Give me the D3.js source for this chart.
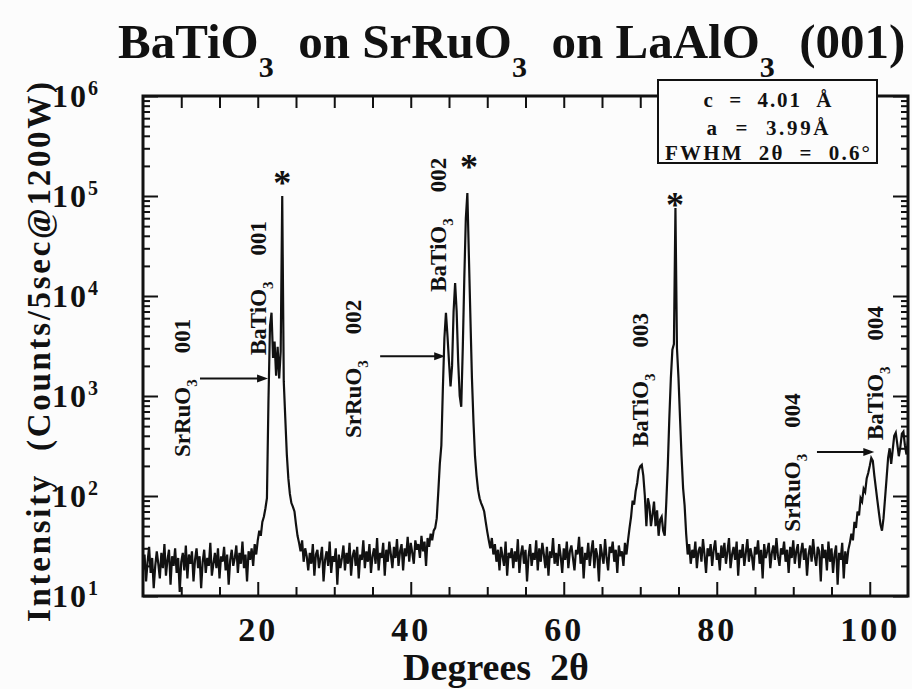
<!DOCTYPE html>
<html>
<head>
<meta charset="utf-8">
<script src="https://cdn.jsdelivr.net/npm/d3@7"></script>
<style>
  html, body { margin: 0; padding: 0; background: #fcfcfc; }
  svg { display: block; }
  text { font-family: "Liberation Serif", "Times New Roman", serif; font-weight: bold; fill: #111; white-space: pre; }
</style>
</head>
<body>
<svg id="chart" width="912" height="689"></svg>
<script>
// θ–2θ scan, 5° to 105° in 0.2° steps (counts per 5 s)
const scanStart = 5;
const scanStep = 0.2;
const counts = [
  18, 26, 14, 22, 31, 17, 24, 12, 20, 28,          // 5°
  21, 15, 27, 19, 33, 16, 23, 29, 13, 25,          // 7°
  20, 30, 17, 24, 11, 22, 27, 18, 32, 15,          // 9°
  26, 21, 28, 14, 23, 30, 19, 25, 12, 22,          // 11°
  29, 17, 24, 20, 34, 16, 21, 27, 19, 30,          // 13°
  15, 25, 22, 31, 18, 26, 13, 23, 29, 20,          // 15°
  24, 32, 17, 27, 21, 35, 19, 26, 14, 28,          // 17°
  23, 30, 20, 33, 26, 36, 45, 40, 55, 62,          // 19°
  75, 95, 900, 5000, 6800, 2400, 3500, 1600, 3100, 1500,   // 21°
  2800, 100000, 1400, 600, 260, 150, 105, 85, 78, 70,     // 23°
  52, 40, 34, 28, 36, 22, 30, 25, 18, 27,          // 25°
  21, 33, 16, 26, 29, 19, 24, 31, 14, 23,          // 27°
  28, 20, 35, 17, 25, 22, 30, 13, 26, 19,          // 29°
  24, 32, 18, 27, 21, 34, 16, 25, 29, 20,          // 31°
  31, 15, 26, 23, 36, 19, 28, 22, 33, 17,          // 33°
  25, 30, 21, 38, 18, 27, 24, 34, 16, 29,          // 35°
  22, 35, 26, 19, 31, 24, 37, 20, 28, 33,          // 37°
  18, 30, 25, 39, 22, 34, 27, 21, 36, 29,          // 39°
  33, 24, 40, 28, 35, 20, 38, 31, 42, 36,          // 41°
  45, 48, 60, 110, 210, 320, 1200, 3800, 6800, 4000,       // 43°
  2200, 1250, 2000, 7000, 13500, 7000, 2200, 1000, 780, 3000, // 45°
  15000, 60000, 107000, 25000, 6000, 1500, 550, 250, 160, 115, // 47°
  95, 85, 78, 70, 55, 44, 36, 30, 38, 26,          // 49°
  33, 22, 29, 18, 31, 25, 20, 35, 16, 27,          // 51°
  24, 30, 19, 28, 22, 37, 17, 26, 32, 21,          // 53°
  29, 14, 25, 33, 20, 27, 23, 36, 18, 30,          // 55°
  22, 34, 26, 19, 31, 16, 28, 24, 38, 21,          // 57°
  27, 20, 33, 25, 17, 30, 23, 35, 19, 28,          // 59°
  32, 24, 18, 29, 26, 39, 21, 31, 15, 27,          // 61°
  23, 34, 20, 28, 36, 19, 30, 25, 14, 33,          // 63°
  26, 21, 37, 24, 18, 31, 27, 35, 22, 29,          // 65°
  17, 32, 25, 28, 20, 34, 26, 36, 48, 62,          // 67°
  90, 82, 112, 135, 180, 198, 205, 160, 100, 50,   // 69°
  95, 80, 50, 65, 88, 50, 72, 40, 58, 62,          // 71°
  45, 40, 85, 200, 600, 1500, 2900, 3300, 76000, 3000,     // 73°
  1500, 600, 250, 120, 80, 42, 26, 33, 21, 29,     // 75°
  24, 35, 19, 28, 31, 22, 37, 26, 17, 30,          // 77°
  25, 33, 20, 29, 36, 23, 27, 18, 32, 24,          // 79°
  34, 21, 28, 38, 19, 26, 31, 23, 35, 16,          // 81°
  29, 24, 33, 20, 27, 37, 22, 30, 25, 18,          // 83°
  31, 26, 36, 21, 29, 15, 33, 24, 28, 34,          // 85°
  19, 27, 32, 23, 38, 25, 20, 30, 26, 35,          // 87°
  22, 29, 17, 31, 24, 36, 21, 28, 33, 19,          // 89°
  27, 34, 23, 30, 16, 26, 32, 22, 37, 25,          // 91°
  20, 31, 28, 14, 33, 24, 29, 18, 35, 22,          // 93°
  30, 17, 26, 32, 13, 27, 23, 34, 15, 28,          // 95°
  21, 29, 34, 42, 36, 55, 48, 70, 64, 95,          // 97°
  88, 118, 110, 150, 170, 200, 240, 225, 160, 120, // 99°
  90, 68, 52, 45, 60, 95, 150, 240, 300, 210,      // 101°
  290, 400, 430, 330, 250, 310, 420, 440, 320, 260, // 103°
  360                                              // 105°
];

// axis ticks
const xTicks = [20, 40, 60, 80, 100];
const yTicks = [1e1, 1e2, 1e3, 1e4, 1e5, 1e6];

// film parameters
const paramLines = ["c  =  4.01  Å", "a  =  3.99Å", "FWHM  2θ  =  0.6°"];

// reflection labels: 2θ of the label baseline, intensity where the label starts
const labelPhase = ["SrRuO", "BaTiO", "SrRuO", "BaTiO", "BaTiO", "SrRuO", "BaTiO"];
const labelHkl   = ["001", "001", "002", "002", "003", "004", "004"];
const labelAt    = [11.15, 21.1, 33.5, 44.6, 71.0, 90.9, 101.7];
const labelBase  = [245, 2570, 380, 11000, 309, 44, 363];

// SrRuO3 pointers: start and tip in 2θ, at a given intensity
const arrowFrom  = [12.45, 36.0, 93.1];
const arrowTo    = [21.35, 44.5, 100.6];
const arrowLevel = [1500, 2500, 275];

// LaAlO3 substrate reflections (*)
const substrateAt    = [23.2, 47.6, 74.55];
const substrateLevel = [151000, 219000, 91000];

// title pieces: formula and subscript
const titleParts = [["BaTiO", "3"], ["  on SrRuO", "3"], ["  on LaAlO", "3"], ["  (001)", ""]];

const scan = counts.map((c, i) => [scanStart + i * scanStep, c]);

const svg = d3.select("#chart");
const plot = { left: 143, right: 908, top: 96, bottom: 596 };

const x = d3.scaleLinear().domain([5, 105]).range([plot.left, plot.right]);
const y = d3.scaleLog().domain([10, 1e6]).range([plot.bottom, plot.top]);

const xMinor = d3.range(10, 105, 5).filter(v => !xTicks.includes(v));
const xAll = d3.range(10, 105, 5);
const yMinor = [];
for (let e = 1; e < 6; e++) for (let m = 2; m <= 9; m++) yMinor.push(m * Math.pow(10, e));

function styleAxis(g) {
  g.select(".domain").remove();
  g.selectAll(".tick line").attr("stroke", "#111").attr("stroke-width", 2);
}

// bottom axis
svg.append("g").attr("transform", `translate(0,${plot.bottom})`)
  .call(d3.axisBottom(x).tickValues(xMinor).tickSize(-9).tickFormat(""))
  .call(styleAxis);
const gx = svg.append("g").attr("transform", `translate(0,${plot.bottom})`)
  .call(d3.axisBottom(x).tickValues(xTicks).tickSize(-14).tickPadding(21).tickFormat(d => d))
  .call(styleAxis);
gx.selectAll(".tick text")
  .attr("font-size", 34).attr("fill", "#111").attr("letter-spacing", 3)
  .attr("font-family", null);

// top axis
svg.append("g").attr("transform", `translate(0,${plot.top})`)
  .call(d3.axisTop(x).tickValues(xAll).tickSize(-12).tickFormat(""))
  .call(styleAxis);

// left axis
svg.append("g").attr("transform", `translate(${plot.left},0)`)
  .call(d3.axisLeft(y).tickValues(yMinor).tickSize(-7).tickFormat(""))
  .call(styleAxis);
const gy = svg.append("g").attr("transform", `translate(${plot.left},0)`)
  .call(d3.axisLeft(y).tickValues(yTicks).tickSize(-15).tickPadding(43).tickFormat(""))
  .call(styleAxis);
gy.selectAll(".tick text").each(function (d) {
  const t = d3.select(this).attr("font-size", 32).attr("fill", "#111").attr("font-family", null)
    .attr("letter-spacing", 2);
  t.append("tspan").text("10");
  t.append("tspan").attr("font-size", 20).attr("dy", "-0.6em").text(Math.round(Math.log10(d)));
});

// right axis
svg.append("g").attr("transform", `translate(${plot.right},0)`)
  .call(d3.axisRight(y).tickValues(yMinor).tickSize(-7).tickFormat(""))
  .call(styleAxis);
svg.append("g").attr("transform", `translate(${plot.right},0)`)
  .call(d3.axisRight(y).tickValues(yTicks).tickSize(-15).tickFormat(""))
  .call(styleAxis);

// diffraction pattern
svg.append("clipPath").attr("id", "plotClip")
  .append("rect").attr("x", plot.left).attr("y", plot.top)
  .attr("width", plot.right - plot.left).attr("height", plot.bottom - plot.top);

svg.append("path")
  .datum(scan)
  .attr("clip-path", "url(#plotClip)")
  .attr("fill", "none")
  .attr("stroke", "#111")
  .attr("stroke-width", 2.2)
  .attr("stroke-linejoin", "miter")
  .attr("d", d3.line().x(d => x(d[0])).y(d => y(d[1])));

// frame
svg.append("rect")
  .attr("x", plot.left).attr("y", plot.top)
  .attr("width", plot.right - plot.left).attr("height", plot.bottom - plot.top)
  .attr("fill", "none").attr("stroke", "#111").attr("stroke-width", 3);

// reflection labels (vertical)
labelPhase.forEach((phase, i) => {
  const t = svg.append("text")
    .attr("transform", `translate(${x(labelAt[i])},${y(labelBase[i])}) rotate(-90)`)
    .attr("font-size", 23);
  t.append("tspan").text(phase);
  t.append("tspan").attr("font-size", 15).attr("dy", 7).text("3");
  t.append("tspan").attr("dy", -7).attr("dx", 26).text(labelHkl[i]);
});

// pointers to the SrRuO3 reflections
arrowFrom.forEach((from, i) => {
  const x0 = x(from), x1 = x(arrowTo[i]), yy = y(arrowLevel[i]);
  svg.append("line").attr("x1", x0).attr("x2", x1 - 8).attr("y1", yy).attr("y2", yy)
    .attr("stroke", "#111").attr("stroke-width", 2);
  svg.append("path")
    .attr("d", `M${x1},${yy}L${x1 - 11},${yy - 4}L${x1 - 11},${yy + 4}Z`)
    .attr("fill", "#111");
});

// substrate markers
substrateAt.forEach((at, i) => {
  svg.append("text")
    .attr("x", x(at)).attr("y", y(substrateLevel[i]))
    .attr("dy", "0.47em")
    .attr("text-anchor", "middle")
    .attr("font-size", 36)
    .text("*");
});

// film parameter box
const box = { x: 658, y: 80, w: 219, h: 83 };
svg.append("rect")
  .attr("x", box.x).attr("y", box.y).attr("width", box.w).attr("height", box.h)
  .attr("fill", "#fcfcfc").attr("stroke", "#111").attr("stroke-width", 2);
const lineY = [107, 135, 160];
const lineLen = [128, 122, 205];
paramLines.forEach((s, i) => {
  svg.append("text")
    .attr("x", box.x + box.w / 2).attr("y", lineY[i])
    .attr("text-anchor", "middle")
    .attr("font-size", 21)
    .attr("textLength", lineLen[i]).attr("lengthAdjust", "spacing")
    .text(s);
});

// title
const title = svg.append("text").attr("x", 118).attr("y", 58).attr("font-size", 49);
let subShift = 0;
titleParts.forEach(([main, sub]) => {
  title.append("tspan").attr("dy", -subShift).text(main);
  subShift = 0;
  if (sub) {
    title.append("tspan").attr("font-size", 30).attr("dy", 19).text(sub);
    subShift = 19;
  }
});

// axis titles
svg.append("text")
  .attr("transform", `translate(50,352) rotate(-90)`)
  .attr("text-anchor", "middle")
  .attr("font-size", 33)
  .attr("textLength", 540).attr("lengthAdjust", "spacing")
  .text("Intensity  (Counts/5sec@1200W)");

svg.append("text")
  .attr("x", 496).attr("y", 680)
  .attr("text-anchor", "middle")
  .attr("font-size", 38)
  .text("Degrees  2θ");
</script>
</body>
</html>
